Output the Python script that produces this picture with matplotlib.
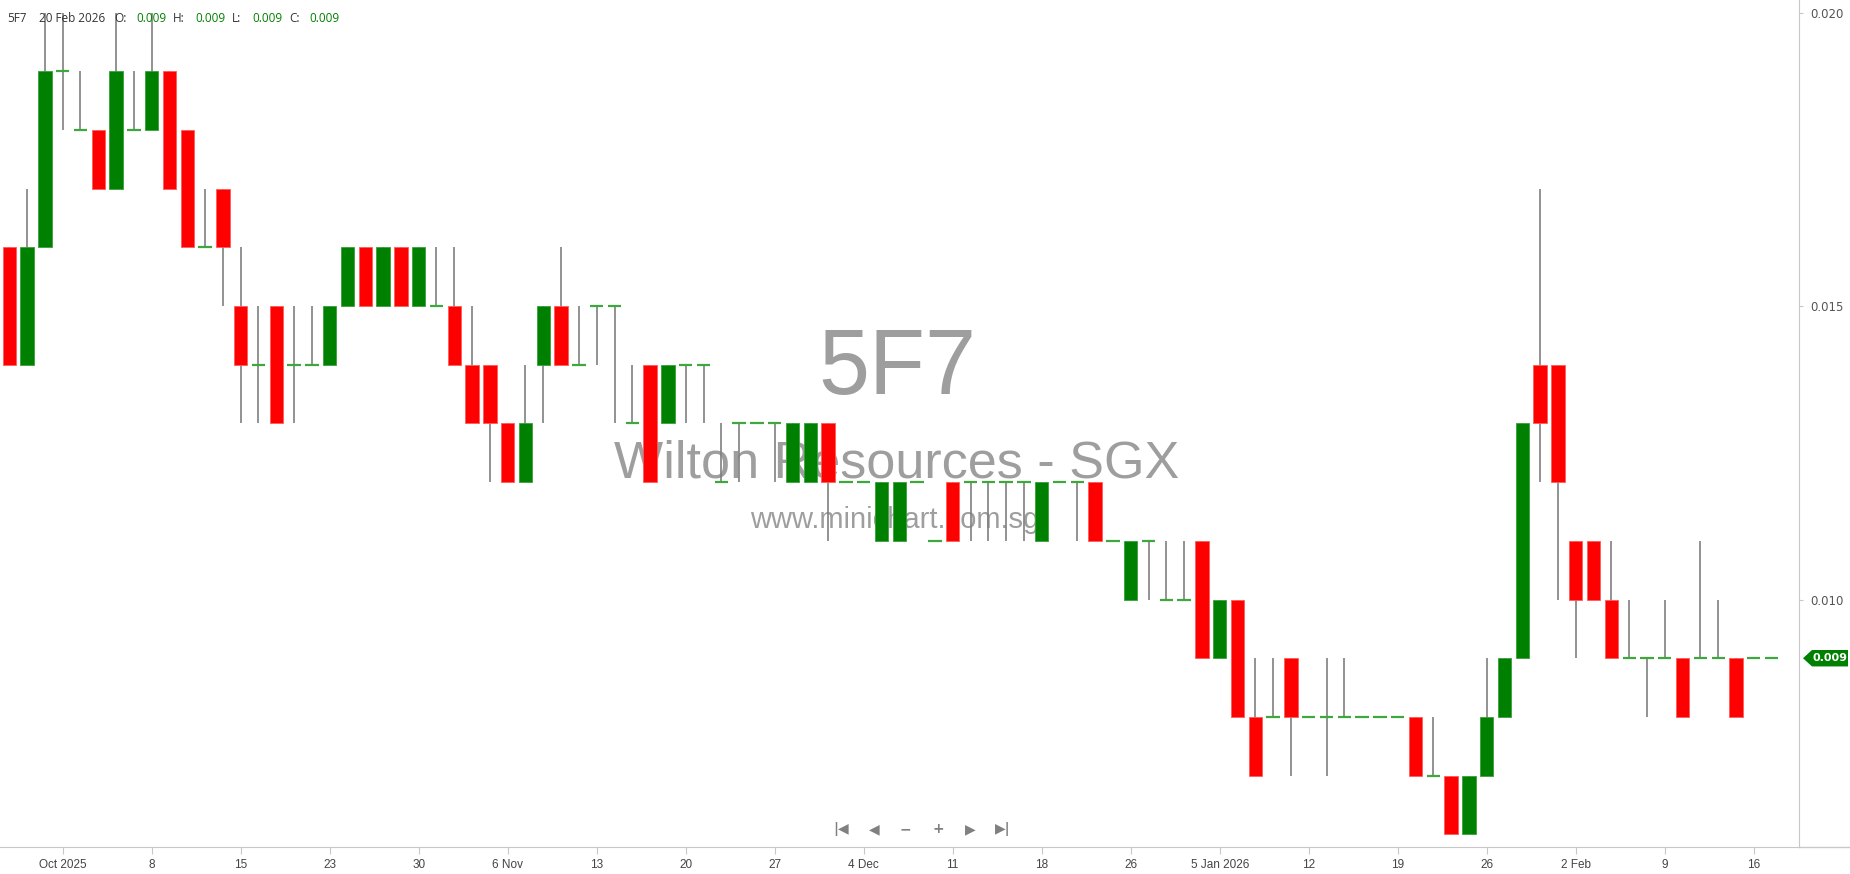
import numpy as np
import matplotlib.pyplot as plt
from matplotlib.patches import Polygon
from matplotlib.lines import Line2D
from matplotlib.transforms import blended_transform_factory

# --- Data (prices in thousandths of a dollar) ---
opens = [16, 14, 16, 19, 18, 18, 17, 18, 18, 19,
         18, 16, 17, 15, 14, 15, 14, 14, 14, 15,
         16, 15, 16, 15, 15, 15, 14, 14, 13, 12,
         14, 15, 14, 15, 15, 13, 14, 13, 14, 14,
         12, 13, 13, 13, 12, 12, 13, 12, 12, 11,
         11, 12, 11, 12, 12, 12, 12, 12, 11, 12,
         12, 12, 11, 10, 11, 10, 10, 11, 9, 10,
         8, 8, 9, 8, 8, 8, 8, 8, 8, 8,
         7, 7, 6, 7, 8, 9, 14, 14, 11, 11,
         10, 9, 9, 9, 9, 9, 9, 9, 9, 9]
highs = [16, 17, 20, 20, 19, 18, 20, 19, 20, 19,
         18, 17, 17, 16, 15, 15, 15, 15, 15, 16,
         16, 16, 16, 16, 16, 16, 15, 14, 13, 14,
         15, 16, 15, 15, 15, 14, 14, 14, 14, 14,
         13, 13, 13, 13, 13, 13, 13, 12, 12, 12,
         12, 12, 11, 12, 12, 12, 12, 12, 12, 12,
         12, 12, 11, 11, 11, 11, 11, 11, 10, 10,
         9, 9, 9, 8, 9, 9, 8, 8, 8, 8,
         8, 7, 7, 9, 9, 13, 17, 14, 11, 11,
         11, 10, 9, 10, 9, 11, 10, 9, 9, 9]
lows = [14, 14, 16, 18, 18, 17, 17, 18, 18, 17,
        16, 16, 15, 13, 13, 13, 13, 14, 14, 15,
        15, 15, 15, 15, 15, 14, 13, 12, 12, 12,
        13, 14, 14, 14, 13, 13, 12, 13, 13, 13,
        12, 12, 13, 12, 12, 12, 11, 12, 12, 11,
        11, 12, 11, 11, 11, 11, 11, 11, 11, 12,
        11, 11, 11, 10, 10, 10, 10, 9, 9, 8,
        7, 8, 7, 8, 7, 8, 8, 8, 8, 7,
        7, 6, 6, 7, 8, 9, 12, 10, 9, 10,
        9, 9, 8, 9, 8, 9, 9, 8, 9, 9]
closes = [14, 16, 19, 19, 18, 17, 19, 18, 19, 17,
          16, 16, 16, 14, 14, 13, 14, 14, 15, 16,
          15, 16, 15, 16, 15, 14, 13, 13, 12, 13,
          15, 14, 14, 15, 15, 13, 12, 14, 14, 14,
          12, 13, 13, 13, 13, 13, 12, 12, 12, 12,
          12, 12, 11, 11, 12, 12, 12, 12, 12, 12,
          12, 11, 11, 11, 11, 10, 10, 9, 10, 8,
          7, 8, 8, 8, 8, 8, 8, 8, 8, 7,
          7, 6, 7, 8, 9, 13, 13, 12, 10, 10,
          9, 9, 9, 9, 8, 9, 9, 8, 9, 9]

tick_pos = [3, 8, 13, 18, 23, 28, 33, 38, 43, 48,
            53, 58, 63, 68, 73, 78, 83, 88, 93, 98]
tick_labels = ["Oct 2025", "8", "15", "23", "30", "6 Nov", "13", "20", "27", "4 Dec",
               "11", "18", "26", "5 Jan 2026", "12", "19", "26", "2 Feb", "9", "16"]

price_ticks = [0.010, 0.015, 0.020]
last_price = 0.009
header_date = "20 Feb 2026"

o = np.array(opens) / 1000
h = np.array(highs) / 1000
l = np.array(lows) / 1000
c = np.array(closes) / 1000
x = np.arange(len(o))

W, H = 1850, 874
fig = plt.figure(figsize=(W / 100, H / 100), dpi=100)
fig.patch.set_facecolor("white")
ax = fig.add_axes([0, 27 / H, 1799 / W, 847 / H])
ax.set_xlim(-0.52, 100.54)
ax.set_ylim(0.005784, 0.020213)

# watermark (behind the candles)
wm = "#9e9e9e"
ax.text(897 / 1799, 1 - 370 / 847, "5F7", transform=ax.transAxes, ha="center", va="center",
        fontsize=66, color=wm, family="Liberation Sans", zorder=1)
ax.text(897 / 1799, 1 - 464 / 847, "Wilton Resources - SGX", transform=ax.transAxes,
        ha="center", va="center", fontsize=37.5, color=wm, family="Liberation Sans", zorder=1)
ax.text(895 / 1799, 1 - 520 / 847, "www.minichart.com.sg", transform=ax.transAxes,
        ha="center", va="center", fontsize=21, color=wm, family="Liberation Sans", zorder=1)

# wicks
ax.vlines(x, l, h, color="#7f7f7f", lw=1.2, zorder=2)

# bodies
up = c > o
down = c < o
flat = c == o
bw = 0.75
ax.bar(x[up], (c - o)[up], bottom=o[up], width=bw, color="#008000",
       edgecolor="#3aa03a", linewidth=0.6, zorder=3)
ax.bar(x[down], (c - o)[down], bottom=o[down], width=bw, color="#ff0000",
       edgecolor="#ff5a5a", linewidth=0.6, zorder=3)
ax.hlines(o[flat], x[flat] - bw / 2, x[flat] + bw / 2, color="#3ea83e", lw=1.6, zorder=3)

# axes styling
for s in ["top", "left"]:
    ax.spines[s].set_visible(False)
ax.spines["right"].set_color("#c8c8c8")
ax.spines["bottom"].set_color("#c8c8c8")
ax.yaxis.tick_right()
ax.set_yticks(price_ticks)
ax.set_yticklabels([f"{v:.3f}" for v in price_ticks])
ax.tick_params(axis="y", length=3, color="#c8c8c8", labelcolor="#555555",
               labelsize=8.5, pad=5)
ax.set_xticks(tick_pos)
ax.set_xticklabels(tick_labels, family="Liberation Sans")
ax.tick_params(axis="x", length=5, color="#c8c8c8", labelcolor="#444444",
               labelsize=8.5, pad=4)
fig.add_artist(Line2D([1799 / W, 1], [27 / H, 27 / H], color="#c8c8c8", lw=1))

# last price tag
bt = blended_transform_factory(fig.transFigure, ax.transData)
dy = 0.00014
tag = Polygon([[1803 / W, last_price], [1812 / W, last_price + dy], [1848 / W, last_price + dy],
               [1848 / W, last_price - dy], [1812 / W, last_price - dy]],
              closed=True, facecolor="#008000", edgecolor="none", transform=bt, clip_on=False)
fig.add_artist(tag)
fig.text(1830 / W, last_price, f"{last_price:.3f}", transform=bt, ha="center", va="center",
         fontsize=8, color="white", fontweight="bold")

# header
hdr = [(7, "5F7", "#333333"), (39, header_date, "#333333"),
       (114, "O:", "#333333"), (136, f"{o[-1]:.3f}", "#008000"),
       (173, "H:", "#333333"), (195, f"{h[-1]:.3f}", "#008000"),
       (232, "L:", "#333333"), (252, f"{l[-1]:.3f}", "#008000"),
       (289, "C:", "#333333"), (309, f"{c[-1]:.3f}", "#008000")]
for px, txt, col in hdr:
    fig.text(px / W, 1 - 18 / H, txt, ha="left", va="center", fontsize=8.5,
             color=col, family="Open Sans")

# navigation buttons
nav = [(841, "|◀"), (874, "◀"), (905, "−"), (938, "+"), (970, "▶"), (1003, "▶|")]
for px, txt in nav:
    fig.text(px / W, 1 - 829 / H, txt, ha="center", va="center", fontsize=10,
             color="#808080", fontweight="bold")

fig.savefig("out.png", dpi=100, facecolor="white")
